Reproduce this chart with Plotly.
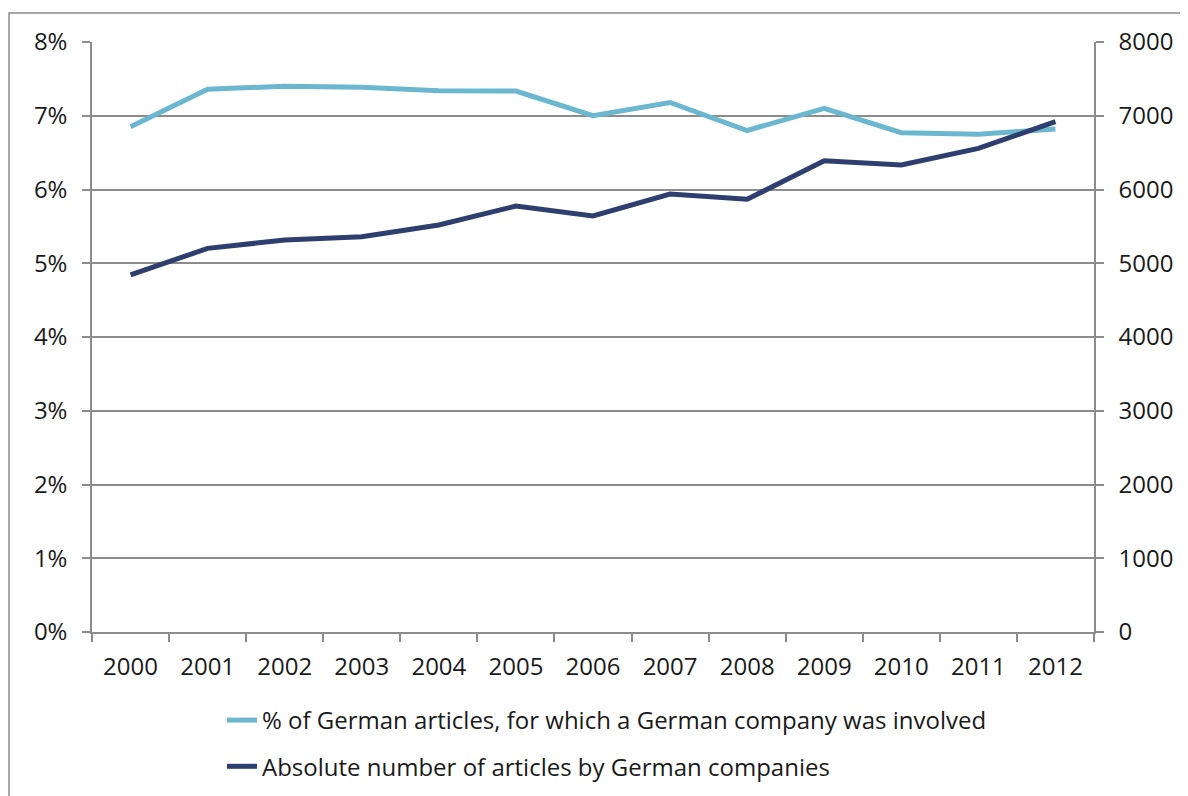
import plotly.graph_objects as go

years = [str(y) for y in range(2000, 2013)]
pct_values = [6.85, 7.36, 7.40, 7.385, 7.34, 7.335, 7.00, 7.18, 6.80, 7.10, 6.77, 6.75, 6.82]
abs_values = [4841, 5202, 5315, 5360, 5519, 5776, 5641, 5939, 5867, 6391, 6332, 6558, 6920]
left_ticks = [0, 1, 2, 3, 4, 5, 6, 7, 8]
left_labels = [f"{v}%" for v in left_ticks]
right_ticks = [0, 1000, 2000, 3000, 4000, 5000, 6000, 7000, 8000]

light = "#6BB7CF"
dark = "#2E3E6E"
grid = "#8C8C8C"
font_family = "Open Sans"

fig = go.Figure()
fig.add_trace(go.Scatter(
    x=years, y=pct_values, mode="lines",
    name="% of German articles, for which a German company was involved",
    line=dict(color=light, width=5), legendgroup="a",
))
fig.add_trace(go.Scatter(
    x=years, y=abs_values, mode="lines", yaxis="y2",
    name="Absolute number of articles by German companies",
    line=dict(color=dark, width=5), legendgroup="b",
))

fig.update_layout(
    width=1188, height=796,
    margin=dict(l=84, r=102, t=34, b=172, autoexpand=False),
    paper_bgcolor="white", plot_bgcolor="white",
    font=dict(family=font_family, size=24, color="#1a1a1a"),
    xaxis=dict(
        type="category", range=[-0.5, 12.5],
        tickson="boundaries", ticks="outside", ticklen=8, tickcolor=grid, tickwidth=1.5,
        showline=True, linecolor=grid, linewidth=1.5,
        showgrid=False, zeroline=False, ticklabelstandoff=12,
    ),
    yaxis=dict(
        range=[0, 8], tickvals=left_ticks, ticktext=left_labels,
        ticks="outside", ticklen=8, tickcolor=grid, tickwidth=1.5,
        showline=True, linecolor=grid, linewidth=1.5,
        showgrid=True, gridcolor=grid, gridwidth=1.5, zeroline=False,
        ticklabelstandoff=10,
    ),
    yaxis2=dict(
        range=[0, 8000], tickvals=right_ticks, overlaying="y", side="right",
        ticks="outside", ticklen=8, tickcolor=grid, tickwidth=1.5,
        showline=True, linecolor=grid, linewidth=1.5,
        showgrid=False, zeroline=False, ticklabelstandoff=10,
    ),
    legend=dict(
        x=(222 - 92) / 1002, xanchor="left",
        y=(632 - 698) / 590, yanchor="top",
        font=dict(size=24, family=font_family, color="#1a1a1a"),
        tracegroupgap=12, bgcolor="rgba(0,0,0,0)",
    ),
    showlegend=True,
)

fig.add_shape(
    type="rect", xref="paper", yref="paper",
    x0=(9 - 92) / 1002, x1=(1200 - 92) / 1002,
    y0=(632 - 810) / 590, y1=(632 - 13) / 590,
    line=dict(color=grid, width=1.5), fillcolor="rgba(0,0,0,0)", layer="below",
)

fig.write_html("out.html")
